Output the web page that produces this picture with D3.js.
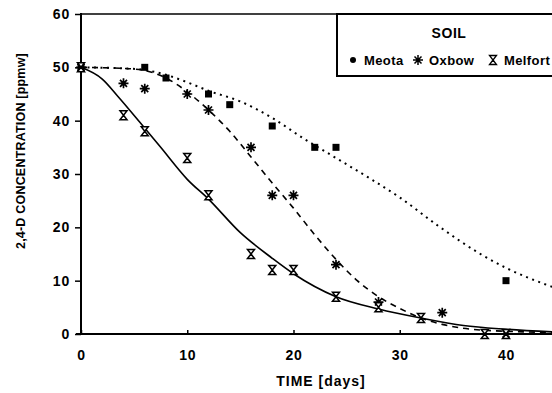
<!DOCTYPE html>
<html>
<head>
<meta charset="utf-8">
<title>2,4-D concentration</title>
<script src="https://d3js.org/d3.v7.min.js"></script>
<style>
  body { margin: 0; background: #fff; }
  text { font-family: Arial, "Liberation Sans", sans-serif; font-weight: bold; fill: #000; }
</style>
</head>
<body>
<script>
// observed data (days, ppmw)
var meotaDays  = [0, 6, 8, 12, 14, 18, 22, 24, 40];
var meotaConc  = [50, 50, 48, 45, 43, 39, 35, 35, 10];
var oxbowDays  = [0, 4, 6, 10, 12, 16, 18, 20, 24, 28, 34, 40];
var oxbowConc  = [50, 47, 46, 45, 42, 35, 26, 26, 13, 6, 4, 0];
var melfortDays = [0, 4, 6, 10, 12, 16, 18, 20, 24, 28, 32, 38, 40];
var melfortConc = [50, 41, 38, 33, 26, 15, 12, 12, 7, 5, 3, 0, 0];

// fitted curves
var meotaFitDays = [0, 4, 6, 8, 10, 12, 15, 18, 21, 24, 27, 30, 33.6, 37.6, 40, 44.4];
var meotaFitConc = [50, 49.8, 49.5, 48.6, 47.2, 45.6, 43.6, 40.5, 36.6, 33, 29.4, 25.6, 20.3, 15, 12.4, 8.8];
var oxbowFitDays = [0, 4, 6, 8, 10, 12, 14, 16, 18, 20, 22, 24, 26, 28, 30, 32, 34, 38, 44.4];
var oxbowFitConc = [50, 49.8, 49.4, 48, 45.4, 42, 38, 33.2, 28.3, 23.6, 18.6, 14, 10, 7, 4.8, 3, 1.8, 0.7, 0.3];
var melfortFitDays = [0, 2, 3.5, 5.5, 7.5, 10, 12, 15, 18, 20, 24, 28, 32, 36, 40, 44.4];
var melfortFitConc = [50, 47.8, 44.5, 39.8, 35, 29, 25.3, 19, 14.2, 11.3, 7, 4.7, 3, 1.6, 0.9, 0.4];

var xTicks = [0, 10, 20, 30, 40];
var yTicks = [0, 10, 20, 30, 40, 50, 60];
var soils = ["Meota", "Oxbow", "Melfort"];

var width = 552, height = 393;
var svg = d3.select("body").append("svg")
    .attr("width", width)
    .attr("height", height);

var x = d3.scaleLinear().domain([0, 44.33]).range([81, 552]);
var y = d3.scaleLinear().domain([0, 60]).range([334, 14]);

// y axis
var yAxis = svg.append("g")
    .attr("transform", "translate(81,0)")
    .call(d3.axisLeft(y).tickValues(yTicks).tickSize(6).tickPadding(5));
yAxis.select(".domain").remove();
yAxis.selectAll("line").attr("stroke-width", 1.5);
yAxis.selectAll("text").style("font-size", "14px").attr("letter-spacing", "0.8px");

// x axis
var xAxis = svg.append("g")
    .attr("transform", "translate(0,334)")
    .call(d3.axisBottom(x).tickValues(xTicks).tickSizeInner(-4).tickSizeOuter(0).tickPadding(16));
xAxis.select(".domain").remove();
xAxis.selectAll("line").attr("stroke-width", 1.5);
xAxis.selectAll("text").style("font-size", "14px").attr("letter-spacing", "0.8px");

// axis lines + top frame
svg.append("line").attr("x1", 81).attr("x2", 81).attr("y1", 13).attr("y2", 335)
    .attr("stroke", "#000").attr("stroke-width", 2);
svg.append("line").attr("x1", 76).attr("x2", width).attr("y1", 334).attr("y2", 334)
    .attr("stroke", "#000").attr("stroke-width", 2);
svg.append("line").attr("x1", 81).attr("x2", width).attr("y1", 14).attr("y2", 14)
    .attr("stroke", "#000").attr("stroke-width", 1.5);

// axis titles
svg.append("text")
    .attr("transform", "translate(25,151) rotate(-90)")
    .attr("text-anchor", "middle")
    .style("font-size", "12.5px")
    .attr("letter-spacing", "0.2px")
    .text("2,4-D CONCENTRATION [ppmw]");
svg.append("text")
    .attr("x", 321).attr("y", 386)
    .attr("text-anchor", "middle")
    .style("font-size", "14px")
    .attr("letter-spacing", "1px")
    .text("TIME [days]");

// fitted curves
var line = d3.line()
    .x(function(d) { return x(d[0]); })
    .y(function(d) { return y(d[1]); })
    .curve(d3.curveMonotoneX);

function drawFit(days, conc, dash, w) {
    svg.append("path")
        .attr("d", line(d3.zip(days, conc)))
        .attr("fill", "none")
        .attr("stroke", "#000")
        .attr("stroke-width", w)
        .attr("stroke-dasharray", dash);
}
drawFit(meotaFitDays, meotaFitConc, "2,4.5", 2);
drawFit(oxbowFitDays, oxbowFitConc, "6,5", 1.6);
drawFit(melfortFitDays, melfortFitConc, null, 1.6);

// marker shapes
var asterisk = "M-5,0H5M0,-5V5M-3.5,-3.5L3.5,3.5M-3.5,3.5L3.5,-3.5";
var hourglass = "M-3.5,-4.5H3.5L0,0L3.5,4.5H-3.5L0,0Z";

function drawSquares(days, conc) {
    svg.append("g").selectAll("rect")
        .data(d3.zip(days, conc)).enter().append("rect")
        .attr("x", function(d) { return x(d[0]) - 3.5; })
        .attr("y", function(d) { return y(d[1]) - 3.5; })
        .attr("width", 7).attr("height", 7)
        .attr("fill", "#000");
}
function drawPaths(days, conc, shape, fill, w) {
    svg.append("g").selectAll("path")
        .data(d3.zip(days, conc)).enter().append("path")
        .attr("transform", function(d) { return "translate(" + x(d[0]) + "," + y(d[1]) + ")"; })
        .attr("d", shape)
        .attr("fill", fill)
        .attr("stroke", "#000")
        .attr("stroke-width", w);
}
drawSquares(meotaDays, meotaConc);
drawPaths(oxbowDays, oxbowConc, asterisk, "none", 1.7);
drawPaths(melfortDays, melfortConc, hourglass, "#fff", 1.5);

// legend box
svg.append("rect").attr("x", 337).attr("y", 14).attr("width", 220).attr("height", 62)
    .attr("fill", "#fff").attr("stroke", "#000").attr("stroke-width", 2);
svg.append("text").attr("x", 449).attr("y", 38)
    .attr("text-anchor", "middle")
    .style("font-size", "14px")
    .attr("letter-spacing", "0.6px")
    .text("SOIL");

var legendX = [353, 418, 493];
var legend = svg.append("g");
legend.append("circle").attr("cx", legendX[0]).attr("cy", 60).attr("r", 3).attr("fill", "#000");
legend.append("path").attr("transform", "translate(" + legendX[1] + ",60)")
    .attr("d", asterisk).attr("stroke", "#000").attr("stroke-width", 1.5);
legend.append("path").attr("transform", "translate(" + legendX[2] + ",60)")
    .attr("d", hourglass).attr("fill", "#fff").attr("stroke", "#000").attr("stroke-width", 1.3);
legend.selectAll("text").data(soils).enter().append("text")
    .attr("x", function(d, i) { return legendX[i] + 11; })
    .attr("y", 65)
    .style("font-size", "13px")
    .attr("letter-spacing", "0.4px")
    .text(function(d) { return d; });
</script>
</body>
</html>
